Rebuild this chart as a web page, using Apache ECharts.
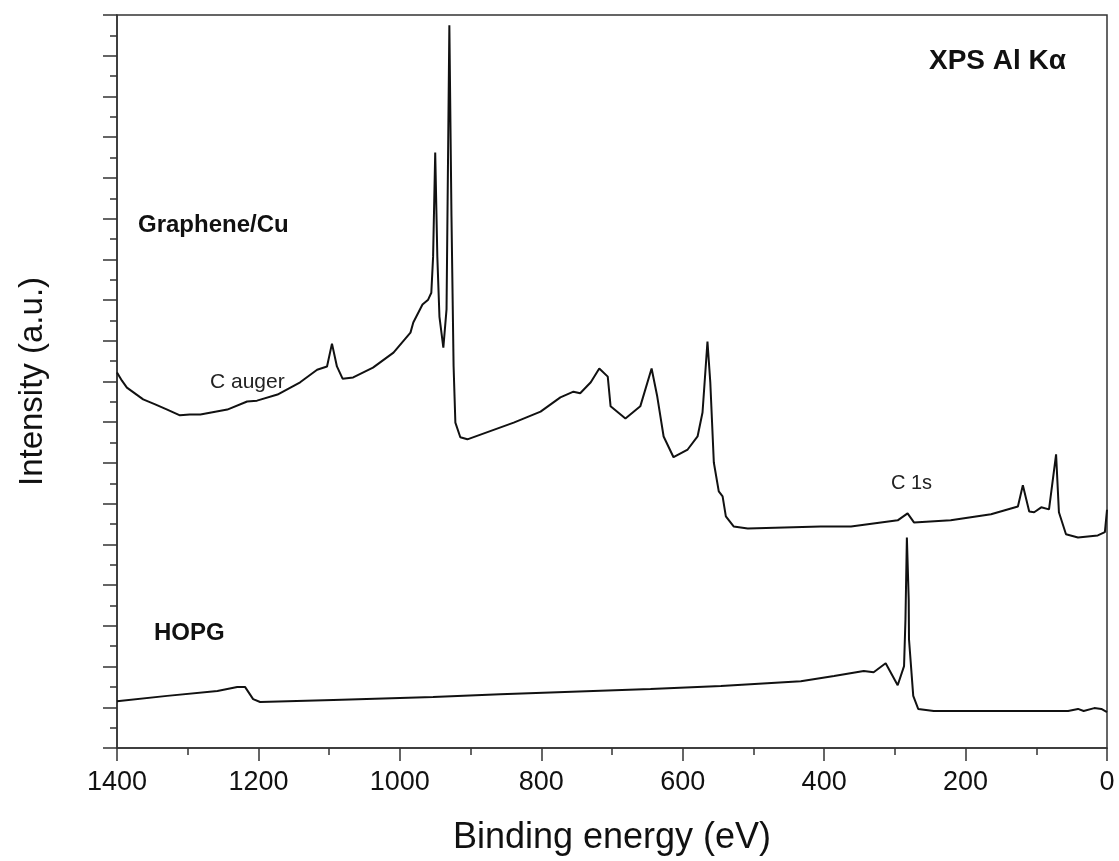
<!DOCTYPE html>
<html>
<head>
<meta charset="utf-8">
<script src="https://cdn.jsdelivr.net/npm/echarts@6/dist/echarts.min.js"></script>
<style>
html,body{margin:0;padding:0;background:#fff;}
#chart{width:1119px;height:861px;}
</style>
</head>
<body>
<div id="chart"></div>
<script>
// Binding energy (eV) / intensity (a.u., offset)
const grapheneEnergy = [1400,1393,1386,1363,1346,1329,1311,1297,1282,1244,1216,1202,1173,1141,1117,1103,1096,1089,1081,1066,1038,1009,985,981,968,960,955.5,953,950,947,944,938.5,934,930,927,924,921.5,914.5,904.5,839,801,773,754.5,745,730,718,706,702,681,660,644,636,627,613,593,579,572,565,561,556,549,543.6,539,528,508,405,362,296,282,273,221,164,126,119,110,103,93,82,72,68,58,41,13,3,0];
const grapheneIntensity = [9.22,9.02,8.85,8.56,8.44,8.31,8.17,8.19,8.19,8.31,8.51,8.53,8.68,8.98,9.29,9.37,9.93,9.37,9.07,9.10,9.34,9.71,10.20,10.45,10.89,11.01,11.18,12.06,14.62,12.06,10.59,9.83,10.77,17.75,13.05,9.37,7.99,7.63,7.58,7.99,8.26,8.61,8.75,8.71,8.98,9.32,9.12,8.39,8.09,8.39,9.32,8.63,7.65,7.14,7.33,7.65,8.24,9.98,8.98,7.01,6.30,6.18,5.69,5.44,5.39,5.44,5.44,5.59,5.76,5.54,5.59,5.74,5.93,6.45,5.81,5.79,5.91,5.86,7.21,5.79,5.25,5.17,5.22,5.30,5.85];

const hopgEnergy = [1400,1329,1258,1230,1219,1207.5,1197.6,1094,953,858,645.5,546,433,386,344,330,313,296,287,285,283,280.4,280,274,267,245,55,41,33,18,8,0];
const hopgIntensity = [1.15,1.28,1.40,1.50,1.50,1.20,1.13,1.18,1.25,1.32,1.45,1.52,1.64,1.77,1.89,1.86,2.08,1.54,2.01,3.16,5.17,3.65,2.67,1.28,0.96,0.91,0.91,0.96,0.91,0.98,0.96,0.88];

const xTicks = {min: 0, max: 1400, interval: 200};
const yTicks = {min: 0, max: 18, interval: 1};

const labels = {
  title: 'XPS Al K\u03b1',
  graphene: 'Graphene/Cu',
  hopg: 'HOPG',
  auger: 'C auger',
  c1s: 'C 1s'
};

const zip = (xs, ys) => xs.map((x, i) => [x, ys[i]]);

const chart = echarts.init(document.getElementById('chart'));
const font = '"Liberation Sans", Arial, sans-serif';
const axisColor = '#333';

chart.setOption({
  animation: false,
  backgroundColor: '#fff',
  grid: {left: 117, right: 12, top: 15, bottom: 112, show: true, borderColor: axisColor, borderWidth: 1.5, backgroundColor: 'transparent'},
  xAxis: {
    type: 'value', inverse: true,
    min: xTicks.min, max: xTicks.max, interval: xTicks.interval,
    name: 'Binding energy (eV)', nameLocation: 'middle', nameGap: 72,
    nameTextStyle: {fontFamily: font, fontSize: 36, color: '#111'},
    axisLine: {show: true, onZero: false, lineStyle: {color: axisColor, width: 1.5}},
    axisTick: {show: true, inside: false, length: 13, lineStyle: {color: axisColor, width: 1.5}},
    minorTick: {show: true, splitNumber: 2, length: 7, lineStyle: {color: axisColor, width: 1.5}},
    axisLabel: {fontFamily: font, fontSize: 27, color: '#111', margin: 21, formatter: v => String(v)},
    splitLine: {show: false}
  },
  yAxis: {
    type: 'value',
    min: yTicks.min, max: yTicks.max, interval: yTicks.interval,
    name: 'Intensity (a.u.)', nameLocation: 'middle', nameGap: 68,
    nameTextStyle: {fontFamily: font, fontSize: 33, color: '#111'},
    axisLine: {show: true, onZero: false, lineStyle: {color: axisColor, width: 1.5}},
    axisTick: {show: true, inside: false, length: 14, lineStyle: {color: axisColor, width: 1.5}},
    minorTick: {show: true, splitNumber: 2, length: 7, lineStyle: {color: axisColor, width: 1.5}},
    axisLabel: {show: false},
    splitLine: {show: false}
  },
  series: [
    {type: 'line', name: labels.graphene, data: zip(grapheneEnergy, grapheneIntensity), showSymbol: false, symbol: 'none', lineStyle: {color: '#111', width: 2}},
    {type: 'line', name: labels.hopg, data: zip(hopgEnergy, hopgIntensity), showSymbol: false, symbol: 'none', lineStyle: {color: '#111', width: 2}}
  ],
  graphic: [
    {type: 'text', left: 929, top: 47, style: {text: labels.title, font: 'bold 28px ' + font, fill: '#111'}},
    {type: 'text', left: 138, top: 213, style: {text: labels.graphene, font: 'bold 24px ' + font, fill: '#111'}},
    {type: 'text', left: 154, top: 621, style: {text: labels.hopg, font: 'bold 24px ' + font, fill: '#111'}},
    {type: 'text', left: 210, top: 372, style: {text: labels.auger, font: '21px ' + font, fill: '#222'}},
    {type: 'text', left: 891, top: 473, style: {text: labels.c1s, font: '20px ' + font, fill: '#222'}}
  ]
});
</script>
</body>
</html>
